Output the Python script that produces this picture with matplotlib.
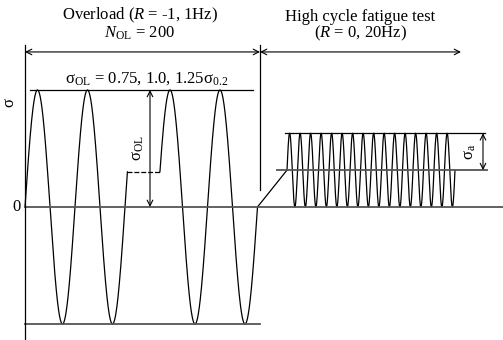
import numpy as np
import matplotlib.pyplot as plt

plt.rcParams['font.family'] = ['Liberation Serif', 'DejaVu Serif']
plt.rcParams['mathtext.fontset'] = 'custom'
plt.rcParams['mathtext.rm'] = 'Liberation Serif'
plt.rcParams['mathtext.it'] = 'Liberation Serif:italic'

# overload block (R = -1), time in overload periods, stress in units of sigma_OL
ol_amp = 1.0
ol_start = [0.0, 2.65]          # zero crossings where each drawn burst starts
ol_cycles = [2, 2]
hold_level = 0.30               # dashed break between the two bursts
# high cycle fatigue block (R = 0)
hcf_start = 5.24
hcf_mean = 0.315
hcf_amp = 0.315
hcf_period = 0.21
hcf_cycles = 16

fig = plt.figure(figsize=(5.03, 3.40), dpi=100)
ax = fig.add_axes([0, 0, 1, 1])
ax.set_xlim(-0.5, 9.56)
ax.set_ylim(-1.137, 1.769)
ax.axis('off')

grey = '#555555'
wave = dict(color='black', lw=0.9)

# overload sine, first burst rises to the hold level at the end
t_hold = np.arcsin(hold_level / ol_amp) / (2 * np.pi)
t1 = np.linspace(ol_start[0], ol_start[0] + ol_cycles[0] + t_hold, 400)
ax.plot(t1, ol_amp * np.sin(2 * np.pi * (t1 - ol_start[0])), **wave)
t2 = np.linspace(ol_start[1] + t_hold, ol_start[1] + ol_cycles[1], 400)
ax.plot(t2, ol_amp * np.sin(2 * np.pi * (t2 - ol_start[1])), **wave)
ax.plot([t1[-1], t2[0]], [hold_level, hold_level], color='black', lw=0.9,
        dashes=(4, 1.5))

# ramp up to the mean stress, then the R = 0 cycles
t_end_ol = ol_start[1] + ol_cycles[1]
ax.plot([t_end_ol, hcf_start], [0, hcf_mean], **wave)
t3 = np.linspace(hcf_start, hcf_start + hcf_cycles * hcf_period, 2000)
ax.plot(t3, hcf_mean + hcf_amp * np.sin(2 * np.pi * (t3 - hcf_start) / hcf_period), **wave)

# reference lines
ax.plot([0, 9.56], [0, 0], color=grey, lw=1.3)
ax.plot([0.1, 4.56], [ol_amp, ol_amp], color='black', lw=0.9)
ax.plot([0, 4.7], [-ol_amp, -ol_amp], color=grey, lw=1.3)
ax.plot([5.2, 9.2], [hcf_mean + hcf_amp] * 2, color='black', lw=0.9)
ax.plot([5.04, 9.24], [hcf_mean, hcf_mean], color=grey, lw=1.3)
ax.plot([0, 0], [-1.137, 1.385], color='black', lw=0.9)
ax.plot([4.7, 4.7], [0.145, 1.385], color='black', lw=0.9)

arr = dict(arrowstyle='->', color='black', lw=0.8, shrinkA=0, shrinkB=0)
arr2 = dict(arrowstyle='<->', color='black', lw=0.8, shrinkA=0, shrinkB=0)
ax.annotate('', xy=(0, 1.325), xytext=(4.7, 1.325), arrowprops=arr2)
ax.annotate('', xy=(4.7, 1.325), xytext=(8.72, 1.325), arrowprops=arr2)
ax.annotate('', xy=(2.5, 0), xytext=(2.5, ol_amp), arrowprops=arr2)
ax.annotate('', xy=(9.16, hcf_mean), xytext=(9.16, hcf_mean + hcf_amp), arrowprops=arr2)

fs = 12
ax.text(2.3, 1.64, 'Overload ($R$ = -1, 1Hz)', ha='center', va='center', fontsize=fs)
ax.text(2.3, 1.487, '$N_{\\mathrm{OL}}$ = 200', ha='center', va='center', fontsize=fs)
ax.text(6.7, 1.624, 'High cycle fatigue test', ha='center', va='center', fontsize=fs)
ax.text(6.7, 1.48, '($R$ = 0, 20Hz)', ha='center', va='center', fontsize=fs)
ax.text(2.44, 1.1, '$\\mathrm{\\sigma_{OL}}$ = 0.75, 1.0, 1.25$\\mathrm{\\sigma_{0.2}}$',
        ha='center', va='center', fontsize=fs)
ax.text(-0.29, 0.89, '$\\mathrm{\\sigma}$', ha='center', va='center', fontsize=fs, rotation=90)
ax.text(-0.16, 0, '0', ha='center', va='center', fontsize=fs)
ax.text(2.26, 0.50, '$\\mathrm{\\sigma_{OL}}$', ha='center', va='center', fontsize=fs, rotation=90)
ax.text(8.9, 0.47, '$\\mathrm{\\sigma_{a}}$', ha='center', va='center', fontsize=fs, rotation=90)

fig.savefig('out.png', dpi=100)
